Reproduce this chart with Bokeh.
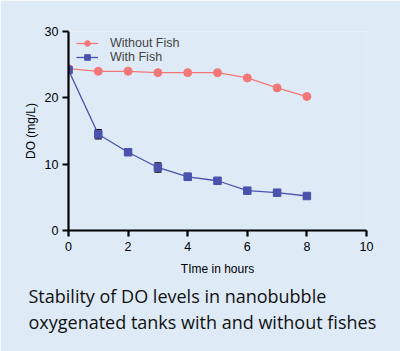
from bokeh.plotting import figure
from bokeh.models import Legend, LegendItem, Title, Whisker, ColumnDataSource, FixedTicker
from bokeh.embed import file_html
from bokeh.resources import INLINE

hours = [0, 1, 2, 3, 4, 5, 6, 7, 8]
without_fish = [24.4, 24.0, 24.0, 23.8, 23.8, 23.8, 23.0, 21.5, 20.2]
with_fish = [24.2, 14.5, 11.8, 9.5, 8.1, 7.5, 6.0, 5.7, 5.2]
with_fish_err = [0.3, 0.7, 0.3, 0.7, 0.5, 0.2, 0.2, 0.2, 0.2]

BG = "#deebf7"
RED = "#f47777"
BLUE = "#4a52ad"

p = figure(width=400, height=351, x_range=(0, 10), y_range=(0, 30),
           output_backend="svg", toolbar_location=None,
           min_border_left=68, min_border_right=34, min_border_top=31, min_border_bottom=121)
p.background_fill_color = BG
p.border_fill_color = BG
p.outline_line_color = None
p.grid.grid_line_color = None

for ax in (p.xaxis[0], p.yaxis[0]):
    ax.axis_line_width = 2.2
    ax.major_tick_line_width = 2.2
    ax.major_tick_in = 0
    ax.major_tick_out = 6
    ax.minor_tick_line_color = None
    ax.major_label_text_font = "Liberation Sans"
    ax.major_label_text_font_size = "12.5px"
    ax.major_label_text_color = "black"
    ax.axis_label_text_font = "Liberation Sans"
    ax.axis_label_text_font_size = "12px"
    ax.axis_label_text_font_style = "normal"
    ax.axis_label_text_color = "black"

p.xaxis.ticker = FixedTicker(ticks=[0, 2, 4, 6, 8, 10])
p.yaxis.ticker = FixedTicker(ticks=[0, 10, 20, 30])
p.xaxis.axis_label = "TIme in hours"
p.yaxis.axis_label = "DO (mg/L)"
p.xaxis.major_label_standoff = 5
p.yaxis.major_label_standoff = 4
p.xaxis.axis_label_standoff = 8
p.yaxis.axis_label_standoff = 4

src = ColumnDataSource(dict(x=hours, y=with_fish,
                            lo=[v - e for v, e in zip(with_fish, with_fish_err)],
                            hi=[v + e for v, e in zip(with_fish, with_fish_err)]))
w = Whisker(source=src, base="x", lower="lo", upper="hi", line_color="black", line_width=1.2)
w.upper_head.size = 7
w.lower_head.size = 7
w.upper_head.line_width = 1.2
w.lower_head.line_width = 1.2
p.add_layout(w)

r1l = p.line(hours, without_fish, line_color=RED, line_width=1.3)
r1s = p.scatter(hours, without_fish, marker="circle", size=8, fill_color=RED, line_color=RED)
r2l = p.line(hours, with_fish, line_color=BLUE, line_width=1.3)
r2s = p.scatter(hours, with_fish, marker="square", size=7.5, fill_color=BLUE, line_color=BLUE)

legend = Legend(items=[LegendItem(label="Without Fish", renderers=[r1l, r1s]),
                       LegendItem(label="With Fish", renderers=[r2l, r2s])],
                location=(8, 166))
legend.background_fill_alpha = 0
legend.border_line_color = None
legend.label_text_font = "Liberation Sans"
legend.label_text_font_size = "12.5px"
legend.label_standoff = 12
legend.glyph_width = 22
legend.glyph_height = 14
legend.spacing = 0
legend.margin = 0
legend.padding = 4
p.add_layout(legend)

t1 = Title(text="Stability of DO levels in nanobubble", align="left",
           text_font="Open Sans", text_font_size="18px", text_color="#111111",
           text_font_style="normal", offset=-40, standoff=7)
t2 = Title(text="oxygenated tanks with and without fishes", align="left",
           text_font="Open Sans", text_font_size="18px", text_color="#111111",
           text_font_style="normal", offset=-40, standoff=-7)
p.add_layout(t1, "below")
p.add_layout(t2, "below")

open("out.html", "w").write(file_html(p, INLINE))
